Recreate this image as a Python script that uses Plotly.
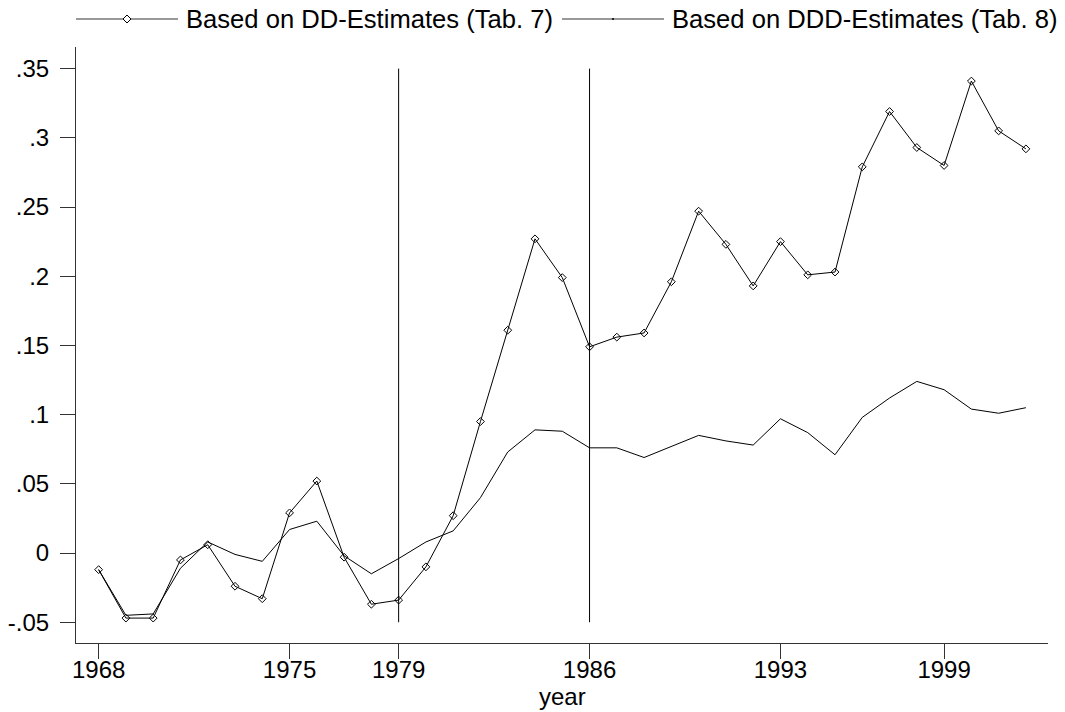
import plotly.graph_objects as go

# ---- data ----
years = [1968, 1969, 1970, 1971, 1972, 1973, 1974, 1975, 1976, 1977, 1978, 1979,
         1980, 1981, 1982, 1983, 1984, 1985, 1986, 1987, 1988, 1989, 1990, 1991,
         1992, 1993, 1994, 1995, 1996, 1997, 1998, 1999, 2000, 2001, 2002]
dd_estimates = [-0.012, -0.047, -0.047, -0.005, 0.006, -0.024, -0.033, 0.029, 0.052,
                -0.003, -0.037, -0.034, -0.010, 0.027, 0.095, 0.161, 0.227, 0.199,
                0.149, 0.156, 0.159, 0.196, 0.247, 0.223, 0.193, 0.225, 0.201, 0.203,
                0.279, 0.319, 0.293, 0.280, 0.341, 0.305, 0.292]
ddd_estimates = [-0.012, -0.045, -0.044, -0.011, 0.008, -0.001, -0.006, 0.017, 0.023,
                 -0.002, -0.015, -0.004, 0.008, 0.016, 0.040, 0.073, 0.089, 0.088,
                 0.076, 0.076, 0.069, 0.077, 0.085, 0.081, 0.078, 0.097, 0.087, 0.071,
                 0.098, 0.112, 0.124, 0.118, 0.104, 0.101, 0.105]
series_names = ["Based on DD-Estimates (Tab. 7)", "Based on DDD-Estimates (Tab. 8)"]
x_tickvals = [1968, 1975, 1979, 1986, 1993, 1999]
y_tickvals = [-0.05, 0, 0.05, 0.1, 0.15, 0.2, 0.25, 0.3, 0.35]
y_ticktext = ["-.05", "0", ".05", ".1", ".15", ".2", ".25", ".3", ".35"]
vline_years = [1979, 1986]
vline_span = [-0.05, 0.35]
x_title = "year"

# ---- layout geometry ----
W, H = 1065, 712
L, R, T, B = 76, 17, 47, 69
PW, PH = W - L - R, H - T - B
FONT = "Liberation Sans, Arial, Helvetica, sans-serif"


def px(xp):
    return (xp - L) / PW


def py(yp):
    return (H - B - yp) / PH


fig = go.Figure()
fig.add_trace(go.Scatter(
    x=years, y=dd_estimates, mode="lines+markers", name=series_names[0],
    line=dict(color="black", width=1),
    marker=dict(symbol="diamond-open", size=6, color="black", line=dict(width=1, color="black")),
    showlegend=False))
fig.add_trace(go.Scatter(
    x=years, y=ddd_estimates, mode="lines", name=series_names[1],
    line=dict(color="black", width=1), showlegend=False))

shapes = []
for vx in vline_years:
    shapes.append(dict(type="line", xref="x", yref="y", x0=vx, x1=vx,
                       y0=vline_span[0], y1=vline_span[1],
                       line=dict(color="black", width=1)))

# custom legend (Stata style)
ly = 19
legend_items = [(76, 178, 184, "diamond"), (562, 664, 670, "dot")]
annotations = []
for (x0, x1, xt, sym), name in zip(legend_items, series_names):
    shapes.append(dict(type="line", xref="paper", yref="paper",
                       x0=px(x0), x1=px(x1), y0=py(ly), y1=py(ly),
                       line=dict(color="#333", width=1)))
    cx = (x0 + x1) / 2
    if sym == "diamond":
        r = 4
        path = (f"M{px(cx - r)},{py(ly)} L{px(cx)},{py(ly - r)} "
                f"L{px(cx + r)},{py(ly)} L{px(cx)},{py(ly + r)} Z")
        shapes.append(dict(type="path", xref="paper", yref="paper", path=path,
                           fillcolor="white", line=dict(color="black", width=1)))
    else:
        r = 1
        shapes.append(dict(type="circle", xref="paper", yref="paper",
                           x0=px(cx - r), x1=px(cx + r), y0=py(ly + r), y1=py(ly - r),
                           fillcolor="black", line=dict(color="black", width=0)))
    annotations.append(dict(text=name, xref="paper", yref="paper", x=px(xt), y=py(ly),
                            xanchor="left", yanchor="middle", showarrow=False,
                            font=dict(family=FONT, size=25.6, color="black")))

annotations.append(dict(text=x_title, xref="paper", yref="paper", x=0.5, y=py(696),
                        xanchor="center", yanchor="middle", showarrow=False,
                        font=dict(family=FONT, size=24, color="black")))

fig.update_layout(
    width=W, height=H,
    margin=dict(l=L, r=R, t=T, b=B, pad=0, autoexpand=False),
    paper_bgcolor="white", plot_bgcolor="white",
    font=dict(family=FONT, size=24, color="black"),
    shapes=shapes, annotations=annotations, showlegend=False,
    xaxis=dict(range=[1967.17, 2002.81], tickvals=x_tickvals, automargin=False,
               ticks="outside", ticklen=15, tickwidth=1, tickcolor="#333",
               showline=True, linecolor="#333", linewidth=1, showgrid=False,
               zeroline=False, ticklabelstandoff=-10,
               tickfont=dict(family=FONT, size=24, color="black")),
    yaxis=dict(range=[-0.065, 0.3656], tickvals=y_tickvals, ticktext=y_ticktext,
               automargin=False,
               ticks="outside", ticklen=15, tickwidth=1, tickcolor="#333",
               showline=True, linecolor="#333", linewidth=1, showgrid=False,
               zeroline=False, ticklabelstandoff=6,
               tickfont=dict(family=FONT, size=24, color="black")),
)

fig.write_html("out.html", config={"displayModeBar": False},
               post_script="document.body.style.margin='0';document.body.style.overflow='hidden';")
